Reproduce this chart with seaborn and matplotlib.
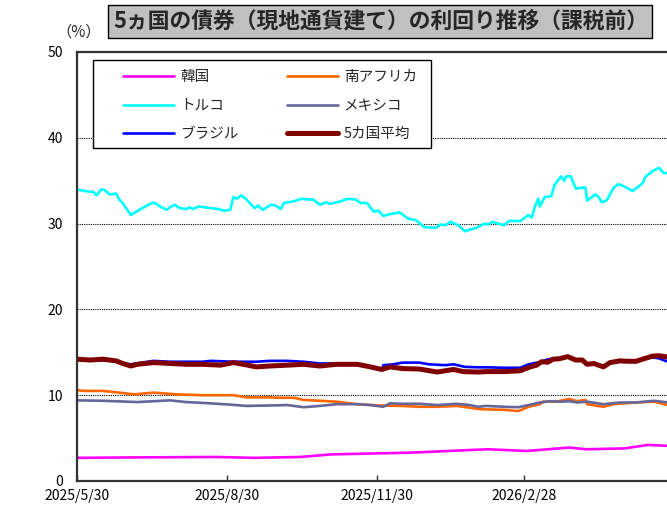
import pandas as pd
import matplotlib
matplotlib.use("Agg")
import matplotlib.pyplot as plt
import seaborn as sns
from matplotlib.lines import Line2D
from matplotlib.patches import Rectangle

# 日付は 2025/5/30 からの経過日数
start_date = "2025-05-30"

kor_days = [0, 37, 85, 109, 137, 156, 180, 204, 228, 252, 276, 302, 312, 336, 350, 363]
kor_vals = [2.7, 2.75, 2.8, 2.7, 2.8, 3.1, 3.2, 3.3, 3.5, 3.7, 3.5, 3.9, 3.7, 3.8, 4.2, 4.1]

zaf_days = [0, 4, 16, 26, 35, 47, 61, 77, 96, 104, 118, 123, 133, 139, 159, 172, 186, 200, 210, 221,
            233, 241, 246, 251, 262, 271, 277, 284, 286, 294, 302, 307, 312, 313, 323, 329, 343, 354, 360, 363]
zaf_vals = [10.6, 10.5, 10.5, 10.3, 10.1, 10.3, 10.1, 10.0, 10.0, 9.75, 9.75, 9.7, 9.7, 9.45, 9.25, 8.95, 8.8, 8.75, 8.65, 8.65,
            8.75, 8.55, 8.4, 8.35, 8.3, 8.15, 8.65, 8.95, 9.25, 9.25, 9.55, 9.3, 9.45, 8.95, 8.65, 8.95, 9.15, 9.25, 8.95, 8.85]

tur_days = [0, 4, 10, 12, 15, 17, 20, 24, 26, 28, 33, 39, 46, 48, 51, 55, 57, 60, 63, 67,
            69, 71, 75, 82, 87, 90, 94, 96, 98, 101, 104, 109, 111, 114, 119, 122, 125, 127, 133, 138,
            142, 145, 149, 153, 155, 162, 166, 171, 174, 178, 182, 185, 188, 192, 198, 203, 208, 213, 220, 223,
            226, 229, 234, 238, 241, 245, 250, 252, 255, 262, 265, 272, 277, 279, 281, 283, 284, 287, 291, 293,
            297, 299, 300, 303, 306, 312, 313, 316, 318, 320, 322, 325, 329, 332, 335, 341, 343, 347, 349, 353,
            357, 360, 363]
tur_vals = [34.0, 33.8, 33.7, 33.3, 34.0, 33.9, 33.4, 33.5, 32.8, 32.4, 31.0, 31.7, 32.4, 32.4, 32.0, 31.6, 31.9, 32.2, 31.8, 31.7,
            31.9, 31.7, 32.0, 31.8, 31.7, 31.5, 31.6, 33.1, 32.9, 33.3, 32.8, 31.8, 32.1, 31.6, 32.2, 32.1, 31.7, 32.4, 32.6, 32.9,
            32.8, 32.8, 32.2, 32.5, 32.3, 32.6, 32.9, 32.8, 32.4, 32.4, 31.4, 31.5, 30.9, 31.1, 31.3, 30.6, 30.4, 29.6, 29.5, 29.9,
            29.8, 30.2, 29.8, 29.1, 29.3, 29.5, 30.0, 29.9, 30.2, 29.8, 30.3, 30.3, 31.0, 30.7, 32.0, 32.9, 32.0, 33.1, 33.2, 34.5,
            35.5, 35.0, 35.5, 35.5, 34.1, 34.2, 32.7, 33.1, 33.4, 33.1, 32.5, 32.7, 34.1, 34.6, 34.4, 33.8, 34.1, 34.7, 35.5, 36.1,
            36.5, 35.9, 35.9]

mex_days = [0, 16, 37, 57, 67, 82, 94, 104, 118, 129, 139, 149, 159, 172, 180, 188, 192, 200, 210, 221,
            233, 241, 246, 251, 262, 271, 277, 284, 290, 298, 302, 307, 313, 323, 333, 343, 354, 363]
mex_vals = [9.4, 9.35, 9.2, 9.4, 9.2, 9.05, 8.9, 8.75, 8.8, 8.85, 8.6, 8.75, 8.95, 8.95, 8.85, 8.65, 9.05, 9.0, 9.0, 8.85,
            9.0, 8.85, 8.65, 8.75, 8.65, 8.6, 8.85, 9.15, 9.3, 9.25, 9.3, 9.15, 9.25, 8.95, 9.15, 9.15, 9.35, 9.15]

bra_days = [0, 24, 28, 33, 47, 57, 77, 82, 96, 110, 118, 129, 139, 149, 159, 172, 180, 187, 188, 194,
            200, 210, 216, 226, 231, 238, 246, 251, 262, 272, 277, 285, 289, 296, 301, 306, 310, 313, 317, 323,
            327, 333, 339, 343, 347, 353, 357, 361, 363]
bra_vals = [14.2, 14.0, 13.7, 13.6, 14.0, 13.9, 13.9, 14.0, 13.9, 13.9, 14.0, 14.0, 13.9, 13.7, 13.7, 13.65, 13.3, 13.0, 13.5, 13.6,
            13.8, 13.8, 13.6, 13.5, 13.6, 13.3, 13.25, 13.25, 13.2, 13.2, 13.6, 13.9, 14.2, 14.25, 14.5, 14.1, 14.1, 13.6, 13.7, 13.3,
            13.8, 14.0, 13.95, 13.95, 14.2, 14.4, 14.3, 14.0, 13.9]

avg_days = [0, 8, 16, 24, 28, 33, 37, 47, 57, 67, 77, 88, 96, 102, 110, 118, 129, 139, 149, 159,
            172, 180, 187, 192, 200, 210, 221, 231, 237, 246, 251, 262, 272, 278, 282, 285, 289, 292, 296, 301,
            306, 310, 313, 317, 323, 327, 333, 339, 343, 347, 353, 357, 361, 363]
avg_vals = [14.2, 14.1, 14.2, 14.0, 13.7, 13.4, 13.6, 13.8, 13.7, 13.6, 13.6, 13.5, 13.8, 13.6, 13.3, 13.4, 13.5, 13.6, 13.4, 13.6,
            13.6, 13.3, 13.0, 13.3, 13.1, 13.05, 12.7, 13.0, 12.75, 12.7, 12.75, 12.75, 12.85, 13.3, 13.5, 13.9, 13.85, 14.2, 14.25, 14.5,
            14.1, 14.1, 13.6, 13.7, 13.3, 13.8, 14.0, 13.95, 13.95, 14.2, 14.55, 14.6, 14.5, 14.4]

series_names = ["韓国", "南アフリカ", "トルコ", "メキシコ", "ブラジル", "5カ国平均"]
series_colors = ["#FF00FF", "#FF6600", "#00FFFF", "#666699", "#0000FF", "#800000"]
series_days = [kor_days, zaf_days, tur_days, mex_days, bra_days, avg_days]
series_vals = [kor_vals, zaf_vals, tur_vals, mex_vals, bra_vals, avg_vals]

xtick_dates = ["2025-05-30", "2025-08-30", "2025-11-30", "2026-02-28"]
xtick_labels = ["2025/5/30", "2025/8/30", "2025/11/30", "2026/2/28"]

t0 = pd.Timestamp(start_date)
frames = []
for name, d, v in zip(series_names, series_days, series_vals):
    frames.append(pd.DataFrame({
        "date": t0 + pd.to_timedelta(d, unit="D"),
        "value": v,
        "series": name,
    }))
df = pd.concat(frames, ignore_index=True)

sns.set_style("white")
plt.rcParams["font.family"] = ["Noto Sans CJK JP", "DejaVu Sans"]

W, H = 667, 508
fig = plt.figure(figsize=(W / 100, H / 100), dpi=100)
ax = fig.add_axes([77 / W, 27 / H, 590 / W, 429 / H])

widths = {}
for name, color in zip(series_names, series_colors):
    lw = 3.6 if name == "5カ国平均" else 1.9
    widths[name] = lw
    sns.lineplot(data=df[df["series"] == name], x="date", y="value",
                 color=color, lw=lw, ax=ax, legend=False)

ax.set_xlim(t0, t0 + pd.Timedelta(days=362))
ax.set_ylim(0, 50)
ax.set_yticks([0, 10, 20, 30, 40, 50])
ax.set_xticks(pd.to_datetime(xtick_dates))
ax.set_xticklabels(xtick_labels)
ax.set_xlabel("")
ax.set_ylabel("")

ax.yaxis.grid(True, linestyle=(0, (1, 1)), color="black", lw=0.8)
ax.xaxis.grid(False)
ax.set_axisbelow(True)

for s in ["left", "bottom", "top"]:
    ax.spines[s].set_visible(True)
    ax.spines[s].set_color("#333333")
    ax.spines[s].set_linewidth(1.6)
ax.spines["right"].set_visible(False)

ax.tick_params(axis="y", length=0, pad=10, labelsize=10, colors="black")
ax.tick_params(axis="x", direction="in", length=4, width=1, color="#333333",
               pad=6, labelsize=10, labelcolor="black", bottom=True)

# タイトル枠
fig.patches.append(Rectangle((108 / W, 1 - 38 / H), 544 / W, 33 / H,
                             transform=fig.transFigure, facecolor="#c0c0c0",
                             edgecolor="black", lw=1))
fig.text(381 / W, 1 - 21.5 / H, "5ヵ国の債券（現地通貨建て）の利回り推移（課税前）",
         ha="center", va="center", fontsize=15.7, fontweight="bold")
fig.text(79 / W, 1 - 32 / H, "（%）", ha="center", va="center", fontsize=11)

# 凡例枠
fig.patches.append(Rectangle((93 / W, 1 - 148 / H), 338 / W, 88 / H,
                             transform=fig.transFigure, facecolor="white",
                             edgecolor="black", lw=1))
order = ["韓国", "トルコ", "ブラジル", "南アフリカ", "メキシコ", "5カ国平均"]
color_map = dict(zip(series_names, series_colors))
handles = [Line2D([0], [0], color=color_map[n], lw=widths[n]) for n in order]
fig.legend(handles, order, loc="upper left", bbox_to_anchor=(116 / W, 1 - 63 / H),
           ncol=2, frameon=False, borderpad=0, fontsize=10.5, handlelength=3.5,
           handletextpad=0.4, columnspacing=3.3, labelspacing=1.0)

fig.savefig("out.png", dpi=100)
